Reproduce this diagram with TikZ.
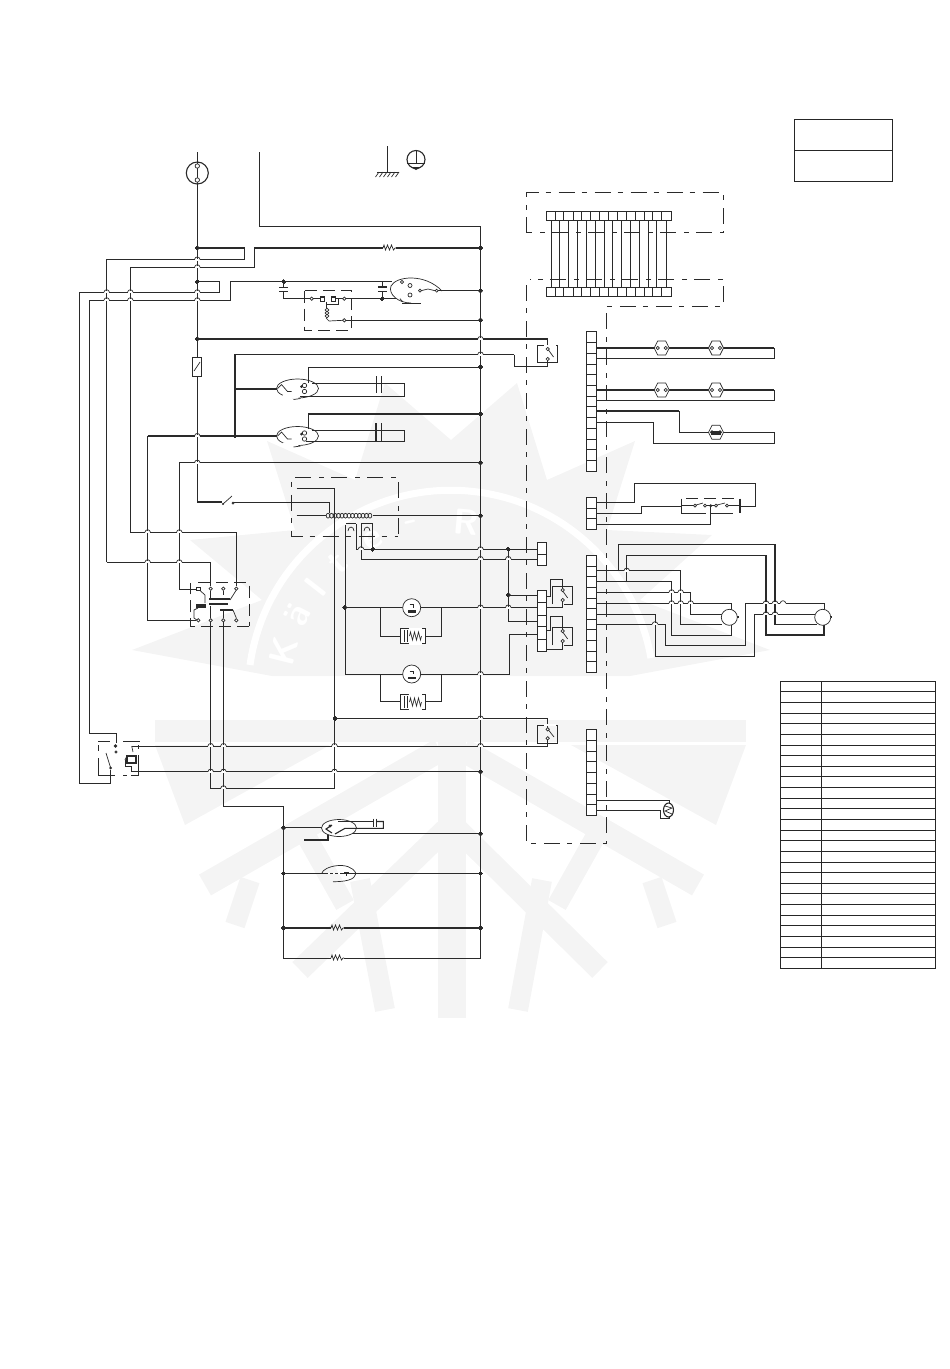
\documentclass[tikz,border=0pt]{standalone}
\definecolor{wirecol}{HTML}{2A2A2A}
\definecolor{wmarkcol}{HTML}{F4F4F4}
\tikzset{
    wire/.style={line width=0.85pt, draw=wirecol},
    heavy/.style={line width=1.1pt, draw=wirecol},
    part/.style={line width=0.7pt, draw=wirecol},
    tablerule/.style={line width=1pt, draw=black!85},
    dashbox/.style={line width=1pt, draw=wirecol, dash pattern=on 16pt off 7pt on 5pt off 8pt},
    shortdash/.style={line width=0.8pt, draw=wirecol, dash pattern=on 12pt off 6pt},
    wmark/.style={draw=wmarkcol},
    wmarktext/.style={text=white, inner sep=0pt, font=\fontsize{36}{36}\selectfont\bfseries\sffamily},
}
% small parts, all placed by their middle or left end
\newcommand{\hop}[2]{
    \draw[white, line width=2pt] ({#1-2.6},#2) -- ({#1+2.6},#2);
    \draw[part] ({#1-2.8},#2) .. controls ({#1-2.4},{#2-3.4}) and ({#1+2.4},{#2-3.4}) .. ({#1+2.8},#2);
}
\newcommand{\resi}[2]{
    \draw[part] (#1,#2) -- ++(1,-3) -- ++(1.5,5) -- ++(2,-5) -- ++(2,5) -- ++(2,-5) -- ++(2,5) -- ++(1.5,-2) -- ++(1,0);
}
\newcommand{\capv}[3]{% vertical lead, plates across
    \draw[heavy] ({#1-4.5},#2) -- ({#1+4.5},#2);
    \draw[heavy] ({#1-4.5},#3) -- ({#1+4.5},#3);
}
\newcommand{\bulb}[2]{
    \draw[part, fill=white] ({#1-7.5},#2) -- ({#1-4},{#2-7}) -- ({#1+4},{#2-7}) -- ({#1+7.5},#2) -- ({#1+4},{#2+7}) -- ({#1-4},{#2+7}) -- cycle;
    \draw[part, fill=white] ({#1-4},#2) circle (1.6);
    \draw[part, fill=white] ({#1+4},#2) circle (1.6);
}
\newcommand{\capmotor}[2]{
    \draw[part] (#1,#2) ellipse (21 and 9.5);
    \draw[white, line width=3pt] ({#1-15},{#2+8}) -- ({#1+1},{#2+9});
    \draw[part] ({#1-20},#2) -- ({#1-16},{#2-4}) -- ({#1-10},{#2+3}) -- ({#1-6},{#2+3});
    \draw[part, fill=white] ({#1+7},{#2-3}) circle (2.2);
    \draw[part, fill=white] ({#1+7},{#2+3}) circle (2.2);
    \fill[wirecol] ({#1+4},{#2-2}) circle (1.5);
    \draw[part] ({#1+3},{#2+10}) -- ({#1-4},{#2+11});
}
\newcommand{\heater}[2]{
    \draw[part, fill=white] ({#1-12.5},{#2-7.5}) rectangle ({#1+12.5},{#2+7.5});
    \draw[white, line width=2pt] ({#1-4},{#2-7.5}) -- ({#1+9},{#2-7.5});
    \draw[white, line width=2pt] ({#1-4},{#2+7.5}) -- ({#1+9},{#2+7.5});
    \draw[part] ({#1-8},{#2-6}) -- ({#1-8},{#2+6});
    \draw[part] ({#1-5},{#2-6}) -- ({#1-5},{#2+6});
    \draw[part] ({#1-3},#2) -- ++(1,-4) -- ++(2,8) -- ++(2,-8) -- ++(2,8) -- ++(2,-8) -- ++(2,8) -- ++(1,-4);
}
\newcommand{\fanmotor}[2]{
    \draw[part, fill=white] (#1,#2) circle (9);
    \draw[part] ({#1-4},{#2+4}) -- ({#1+4},{#2+4});
    \fill[wirecol] ({#1-4},{#2+2.5}) rectangle ({#1+4},{#2+5});
    \draw[part] ({#1-2},{#2-3}) -- ({#1+2},{#2-3}) -- ({#1+2},{#2});
}
\newcommand{\blade}[2]{% open contact with side box, middle at #1,#2
    \draw[part, fill=white] (#1,{#2-5}) circle (1.7);
    \draw[part, fill=white] (#1,{#2+5}) circle (1.7);
    \draw[part] (#1,{#2-4}) -- ({#1+5},{#2+3});
}
\begin{document}
\begin{tikzpicture}[x=1pt, y=-1pt]
    \useasboundingbox (0,0) rectangle (950,1369);
    % watermark
    \fill[wmarkcol] (132,650) -- (262,600) -- (190,540) -- (295,530) -- (267,441) -- (355,480) -- (385,383) -- (451,440) -- (517,383) -- (547,480) -- (635,441) -- (607,530) -- (712,535) -- (640,600) -- (770,650) -- (630,676) -- (272,676) -- cycle;
    \draw[white, line width=7pt] (250,665) arc (-172:-10:203);
    \foreach \c/\a in {K/-166,{\"a}/-153,l/-142,t/-131,e/-117,-/-103,R/-85}
        \node[wmarktext, rotate={-\a-90}] (wmark\a) at ({451+172*cos(\a)},{693+172*sin(\a)}) {\c};
    \fill[wmarkcol] (155,720) rectangle (746,742);
    \fill[wmarkcol] (155,745) -- (330,745) -- (185,825) -- cycle;
    \fill[wmarkcol] (746,745) -- (571,745) -- (716,825) -- cycle;
    \draw[wmark, line width=28pt] (452,742) -- (452,1018);
    \draw[wmark, line width=24pt] (440,750) -- (205,885);
    \draw[wmark, line width=24pt] (463,750) -- (698,885);
    \draw[wmark, line width=20pt] (300,825) -- (345,905);
    \draw[wmark, line width=20pt] (602,825) -- (557,905);
    \draw[wmark, line width=22pt] (445,830) -- (300,970);
    \draw[wmark, line width=22pt] (458,830) -- (600,970);
    \draw[wmark, line width=20pt] (360,880) -- (385,1010);
    \draw[wmark, line width=20pt] (542,880) -- (518,1010);
    \draw[wmark, line width=20pt] (250,880) -- (235,925);
    \draw[wmark, line width=20pt] (652,880) -- (667,925);
    % supply side
    \draw[heavy] (197.3,152) -- (197.3,502) -- (222,502);
    \draw[wire] (233,502) -- (329,502) -- (329,513);
    \draw[wire] (259.6,152) -- (259.6,226) -- (480.5,226) -- (480.5,958) -- (344,958);
    \draw[wire] (330.7,958) -- (283.5,958) -- (283.5,806.5) -- (223.5,806.5) -- (223.5,622);
    \draw[wire] (387.5,146) -- (387.5,172);
    \draw[wire] (377,172) -- (399,172);
    \foreach \x in {379,383,387,391,395,399}
        \draw[part] (\x,172) -- ++(-3.5,5);
    % left hand loops
    \draw[heavy] (197.3,248) -- (244.7,248);
    \draw[wire] (244.7,248) -- (244.7,259.5) -- (106.7,259.5) -- (106.7,562.3);
    \draw[heavy] (106.7,562.3) -- (210.7,562.3) -- (210.7,586);
    \draw[heavy] (480.5,248) -- (396,248);
    \draw[heavy] (383,248) -- (254.3,248) -- (254.3,267.3) -- (130.3,267.3) -- (130.3,532.3) -- (236.3,532.3) -- (236.3,586);
    \draw[wire] (197.3,281.7) -- (219.3,281.7) -- (219.3,292.3) -- (79.3,292.3) -- (79.3,783) -- (110.7,783) -- (110.7,770);
    \draw[wire] (392,281.7) -- (230,281.7) -- (230,300.3) -- (89.3,300.3) -- (89.3,733) -- (116,733) -- (116,743);
    \draw[heavy] (197.3,339) -- (547.7,339) -- (547.7,347);
    \draw[wire] (547.7,359) -- (547.7,366.7) -- (514.3,366.7) -- (514.3,354.5);
    \draw[heavy] (514.3,354.5) -- (235,354.5) -- (235,436);
    \draw[heavy] (147.7,436) -- (276.7,436);
    \draw[wire] (147.7,436) -- (147.7,620.3) -- (196,620.3);
    \draw[heavy] (235,389) -- (276.7,389);
    \draw[wire] (308.3,383) -- (308.3,367) -- (480.5,367);
    \draw[heavy] (308.3,429) -- (308.3,414) -- (480.5,414);
    \draw[wire] (480.5,462.7) -- (179.3,462.7) -- (179.3,589) -- (196,589);
    % capacitor motors
    \draw[wire] (283.7,281.7) -- (283.7,287.3);
    \capv{283.7}{287.3}{291.7}
    \draw[wire] (283.7,291.7) -- (283.7,298.7) -- (310,298.7);
    \draw[wire] (382.3,281.7) -- (382.3,287);
    \capv{382.3}{287}{291.5}
    \draw[wire] (382.3,291.5) -- (382.3,298.7);
    \draw[wire] (345.5,298.7) -- (396,298.7);
    \draw[heavy] (436.7,290.7) -- (480.5,290.7);
    \draw[heavy] (346,320.3) -- (480.5,320.3);
    \draw[shortdash] (304.3,290.7) rectangle (351.7,330.7);
    \draw[part, fill=white] (311.7,298.7) circle (1.7);
    \draw[part, fill=white] (344.3,298.7) circle (1.7);
    \draw[part] (313,298.7) -- (320,298.7);
    \draw[heavy] (320.5,297) rectangle (324.5,301.5);
    \draw[heavy] (331.5,297) rectangle (335.5,301.5);
    \draw[part] (335.5,298.7) -- (343,298.7);
    \draw[part] (326,301.5) -- (326,304) -- (338,304) -- (338,298.7);
    \draw[part] (326,304) -- (326,308);
    \foreach \y in {310,313,316}
        \draw[part] (327,\y) circle (1.8);
    \draw[part] (326,318) -- (329,321) -- (343,320.3);
    \draw[part, fill=white] (344.3,320.3) circle (1.7);
    \draw[part] (391,286) .. controls (396,276) and (425,273) .. (442,291);
    \draw[part] (391,286) .. controls (388,294) and (398,303) .. (411,303);
    \draw[part] (402,303.5) -- (421,303.5);
    \draw[part, fill=white] (402,282) circle (1.6);
    \draw[part, fill=white] (410,285.5) circle (2);
    \draw[part, fill=white] (410,295) circle (2);
    \draw[part, fill=white] (420,290.7) circle (1.5);
    \draw[part, fill=white] (436.7,290.7) circle (1.5);
    \draw[part] (421,290.7) -- (428,289) -- (435,290.7);
    \draw[part] (400,298.7) -- (403,302);
    \capmotor{297.5}{388.5}
    \capmotor{297.5}{436}
    \draw[wire] (312,383.3) -- (404.3,383.3) -- (404.3,396) -- (300,396);
    \draw[part] (376,376) -- (376,393.3);
    \draw[part] (381.7,376) -- (381.7,393.3);
    \draw[wire] (312,430) -- (404.3,430) -- (404.3,441.7) -- (306,441.7);
    \draw[heavy] (376,423) -- (376,440.5);
    \draw[heavy] (381.7,423) -- (381.7,440.5);
    % fuse and hand switch
    \draw[part, fill=white] (192.3,357.3) rectangle (201.7,376);
    \draw[part] (194,371) -- (200,362);
    \draw[heavy, fill=white] (197.3,173) circle (11);
    \draw[heavy] (197.3,162) -- (197.3,184);
    \draw[part, fill=white] (197.3,166) circle (2.2);
    \draw[part, fill=white] (197.3,180) circle (2.2);
    \draw[part] (223,504) -- (232,496);
    \fill[wirecol] (223,504) circle (1.2);
    \draw[part, fill=white] (233,503) circle (1);
    % earth mark
    \draw[heavy] (416,159.5) circle (9);
    \draw[part] (416,151) -- (416,163);
    \draw[part] (407,163) -- (425,163);
    \fill[wirecol] (411,167) -- (421,167) -- (416,170) -- cycle;
    % transformer
    \draw[dashbox] (398.3,534) -- (398.3,477.7) -- (291.7,477.7) -- (291.7,536) -- (398.3,536);
    \draw[heavy] (296.7,488.3) -- (334.5,488.3);
    \draw[wire] (334.5,488.3) -- (334.5,788.3) -- (210.7,788.3) -- (210.7,622);
    \draw[wire] (296.7,515.7) -- (326,515.7);
    \draw[wire] (373.3,515.7) -- (480.5,515.7);
    \foreach \x in {328,331.5,...,371}
        \draw[part] (\x,515.7) circle (1.8 and 2.4);
    \draw[part] (346,523) -- (356,523);
    \draw[part] (361,523) -- (373,523);
    \draw[part] (348,531) arc (-180:0:3 and 4);
    \draw[part] (364,531) arc (-180:0:3 and 4);
    \draw[wire] (345,525) -- (345,674) -- (509,674) -- (509,634) -- (537.7,634);
    \draw[heavy] (345,607.5) -- (537.7,607.5);
    \draw[heavy] (356.7,524) -- (356.7,549.3) -- (537.7,549.3);
    \draw[wire] (372.7,524) -- (372.7,549.3);
    \draw[wire] (361,524) -- (361,559) -- (537.7,559);
    \draw[wire] (508.3,549.3) -- (508.3,621.7) -- (537.7,621.7);
    \draw[wire] (508.3,595) -- (537.7,595);
    % fan motors and heaters
    \draw[wire] (380.7,607.5) -- (380.7,636) -- (441.7,636) -- (441.7,607.5);
    \draw[wire] (380.7,674) -- (380.7,701.7) -- (441.7,701.7) -- (441.7,674);
    \fanmotor{411.7}{607.7}
    \fanmotor{411.7}{674}
    \heater{412.5}{636}
    \heater{412.5}{702}
    % lower rows
    \draw[wire] (335,718.5) -- (547.7,718.5) -- (547.7,729);
    \draw[wire] (140,746) -- (547.7,746) -- (547.7,739);
    \draw[wire] (140,771.7) -- (480.5,771.7);
    \draw[heavy] (283.5,827.7) -- (322,827.7);
    \draw[wire] (352,833.7) -- (480.5,833.7);
    \draw[heavy] (304,840) -- (328,840) -- (328,834);
    \draw[wire] (283.5,873.5) -- (480.5,873.5);
    \draw[heavy] (283.5,928) -- (330.7,928);
    \draw[heavy] (344,928) -- (480.5,928);
    \resi{383}{248}
    \resi{331}{928}
    \resi{331}{958}
    % thermostat parts on the lower rows
    \draw[part, fill=white] (339,828) ellipse (17.5 and 8.5);
    \draw[heavy] (332,825) -- (326,829) -- (332,833);
    \fill[wirecol] (330,826) circle (1.6);
    \draw[part] (338,821.5) -- (373.3,821.5);
    \draw[heavy] (373.3,818.5) -- (373.3,826.5);
    \draw[heavy] (376.5,818.5) -- (376.5,826.5);
    \draw[heavy] (376.5,821.5) -- (383.3,821.5) -- (383.3,828.3) -- (345,828.3) -- (335,834);
    \draw[part] (321.7,873.5) .. controls (323,866) and (350,860) .. (356,873.5);
    \draw[part] (356,873.5) .. controls (355,880) and (345,881.7) .. (333,881.7);
    \draw[white, line width=1.5pt] (325,873.5) -- (343,873.5);
    \draw[part, dash pattern=on 3pt off 2pt] (325,873.5) -- (345,873.5);
    \draw[heavy] (344,872.5) -- (349,872.5);
    \draw[part] (346.5,872.5) -- (346.5,876);
    % contactor
    \draw[shortdash] (198,582.7) -- (249,582.7) -- (249,626);
    \draw[shortdash] (249,626) -- (190.7,626) -- (190.7,582.7);
    \draw[part] (198.3,589) -- (205,595) -- (205,603);
    \draw[part, fill=white] (196.8,587.3) rectangle (200,590.7);
    \draw[part, fill=white] (223.3,588.7) circle (1.7);
    \draw[part] (223.3,590.5) -- (223.3,595);
    \draw[part, fill=white] (210.7,588.7) circle (1.7);
    \draw[part, fill=white] (236.3,588.7) circle (1.7);
    \draw[part] (210.7,590.5) -- (210.7,598);
    \draw[heavy] (209,599) -- (230,599);
    \draw[heavy] (209,604) -- (228,604);
    \draw[part] (230,600) -- (236,590.5);
    \fill[wirecol] (196,604) rectangle (206,608);
    \draw[part] (198,608) -- (194,610) -- (194,618) -- (197,620);
    \foreach \x in {198.3,210.7,223.3,236.3}
        \draw[part, fill=white] (\x,620.3) circle (1.7);
    \draw[part] (210.7,606) -- (210.7,618);
    \draw[heavy] (220,610) -- (233,610);
    \draw[part] (223.3,610) -- (223.3,618);
    \draw[part] (233,610) -- (236.3,618);
    % door switches
    \draw[shortdash] (98.3,741) -- (114,741);
    \draw[part] (98.3,745) -- (98.3,751);
    \draw[part] (98.3,758) -- (98.3,775) -- (115,775);
    \fill[wirecol] (115.5,746) circle (1.8);
    \draw[part, fill=white] (116,752) circle (1.2);
    \draw[part] (110.7,768) -- (106,753);
    \fill[wirecol] (110.7,768) circle (1.5);
    \draw[part] (123,741) -- (140,741);
    \draw[part] (138.5,745) -- (138.5,749);
    \draw[part] (138.5,755) -- (138.5,775) -- (131,775);
    \draw[part] (123,775) -- (127,775);
    \draw[wire] (131.7,746) -- (155,746);
    \draw[part] (131.7,746) -- (133,752);
    \draw[part] (125,760) -- (125,766) -- (131.7,766) -- (131.7,771.7) -- (145,771.7);
    \draw[heavy] (127,756) rectangle (136,763);
    \draw[part] (125,760) -- (127,756);
    % outer dash dot frames
    \draw[dashbox] (526.7,232.7) -- (526.7,192.7) -- (723.3,192.7) -- (723.3,232.7) -- (526.7,232.7);
    \draw[dashbox] (526.7,285) -- (526.7,843.3) -- (606,843.3) -- (606,306.7) -- (723.3,306.7) -- (723.3,279.3) -- (530,279.3);
    % upper terminal rows
    \foreach \x/\w in {551.3/heavy,559.3/wire,568.7/wire,577.7/wire,586.7/heavy,595.7/wire,604.3/wire,612.7/wire,621.7/wire,630.3/wire,639.7/heavy,648.3/wire,656.7/wire,666.3/heavy}
        \draw[\w] (\x,220) -- (\x,287.3);
    \foreach \y in {211.7,287.3}{
        \draw[part, fill=white] (546,\y) rectangle (671,{\y+8.7});
        \foreach \x in {555.3,563.3,573.3,581.7,590.7,599.3,608.3,617.3,626,635.3,644.3,652.7,661.7}
            \draw[part] (\x,\y) -- (\x,{\y+8.7});
    }
    % relays in the frame
    \draw[part] (537.7,345.7) rectangle (557.3,362.3);
    \draw[white, line width=2pt] (544,345.7) -- (556,345.7);
    \draw[part, fill=white] (547.7,349) circle (1.7);
    \draw[part, fill=white] (547.7,359) circle (1.7);
    \draw[part] (548.5,350) -- (553.5,357);
    \draw[part] (537.7,725) rectangle (557.3,743.3);
    \draw[white, line width=2pt] (544,725) -- (556,725);
    \draw[part, fill=white] (547.7,729.3) circle (1.7);
    \draw[part, fill=white] (547.7,738.3) circle (1.7);
    \draw[part] (548.5,730) -- (554,737);
    % terminal blocks
    \draw[part, fill=white] (537.7,542.7) rectangle (546.7,565.3);
    \draw[part] (537.7,554) -- (546.7,554);
    \draw[part, fill=white] (537.7,590) rectangle (546.7,651.7);
    \foreach \y in {602.7,615,626.7,639.3}
        \draw[part] (537.7,\y) -- (546.7,\y);
    \draw[wire] (546.7,596.7) -- (550,596.7) -- (550,579.3) -- (562.7,579.3) -- (562.7,588);
    \draw[wire] (546.7,607.3) -- (562.7,607.3) -- (562.7,602);
    \draw[part] (552.3,604) -- (552.3,586.7) -- (572.7,586.7) -- (572.7,604) -- (564,604);
    \blade{562.7}{595}
    \draw[wire] (546.7,630) -- (550,630) -- (550,616) -- (562.7,616) -- (562.7,630);
    \draw[wire] (546.7,649) -- (562.7,649) -- (562.7,643);
    \draw[part] (552.3,645) -- (552.3,627.3) -- (572.7,627.3) -- (572.7,645) -- (564,645);
    \blade{562.7}{636}
    % terminal strips with their rows
    \draw[part, fill=white] (586.3,331.7) rectangle (596,471);
    \foreach \i in {1,...,12}
        \draw[part] (586.3,{331.7+\i*10.72}) -- (596,{331.7+\i*10.72});
    \draw[part, fill=white] (586.3,497.3) rectangle (596,529.3);
    \draw[part] (586.3,508) -- (596,508);
    \draw[part] (586.3,518.7) -- (596,518.7);
    \draw[part, fill=white] (586.3,555.3) rectangle (596,672.3);
    \foreach \i in {1,...,10}
        \draw[part] (586.3,{555.3+\i*10.64}) -- (596,{555.3+\i*10.64});
    \draw[part, fill=white] (586.3,729.7) rectangle (596,815.3);
    \foreach \i in {1,...,7}
        \draw[part] (586.3,{729.7+\i*10.7}) -- (596,{729.7+\i*10.7});
    % lamps
    \draw[heavy] (596,348) -- (774,348);
    \draw[wire] (774,348) -- (774,358.7) -- (596,358.7);
    \draw[heavy] (596,390) -- (774,390);
    \draw[wire] (774,390) -- (774,400.7) -- (596,400.7);
    \draw[heavy] (596,411) -- (679,411);
    \draw[wire] (679,411) -- (679,432.3) -- (774,432.3) -- (774,443.3) -- (653.3,443.3) -- (653.3,422.3) -- (596,422.3);
    \bulb{661.7}{348}
    \bulb{716}{348}
    \bulb{661.7}{390}
    \bulb{716}{390}
    \bulb{716}{432.3}
    \fill[wirecol] (711,430.5) rectangle (721,434.5);
    % defrost limit row
    \draw[wire] (596,502.7) -- (634.7,502.7) -- (634.7,483.3) -- (755.7,483.3) -- (755.7,506.7) -- (740,506.7);
    \draw[wire] (596,513.3) -- (641.7,513.3) -- (641.7,506.7) -- (681.7,506.7);
    \draw[wire] (596,524.3) -- (710.7,524.3) -- (710.7,505.7);
    \draw[heavy] (681.7,498.5) -- (681.7,513.3) -- (706,513.3);
    \draw[heavy] (740,498.5) -- (740,513.3);
    \draw[part] (710,513.3) -- (733,513.3);
    \draw[shortdash] (686,498.3) -- (738,498.3);
    \draw[part] (681.7,505.7) -- (694,505.7);
    \draw[part] (725,505.7) -- (740,505.7);
    \foreach \x in {695,705,716,727}
        \draw[part, fill=white] (\x,505.7) circle (1.5);
    \draw[part] (696,505) -- (703,503);
    \draw[part] (717,505) -- (725,503);
    \fill[wirecol] (710.7,505.7) circle (1.6);
    \draw[part] (706,505.7) -- (715,505.7);
    % compressor and fan wiring
    \draw[heavy] (596,570.7) -- (680.7,570.7) -- (680.7,624.3) -- (722,624.3);
    \draw[heavy] (618.3,570.7) -- (618.3,544.3) -- (775,544.3) -- (775,624.3) -- (816.7,624.3);
    \draw[heavy] (626.7,581) -- (626.7,555.7) -- (766,555.7) -- (766,635) -- (824,635) -- (824,625);
    \draw[wire] (596,581) -- (671.7,581) -- (671.7,635) -- (731,635) -- (731,625);
    \draw[wire] (596,592.3) -- (690.7,592.3) -- (690.7,614.3) -- (722,614.3);
    \draw[wire] (596,603.3) -- (731,603.3) -- (731,610);
    \draw[wire] (596,614.3) -- (655,614.3) -- (655,656) -- (754,656) -- (754,614.3) -- (815,614.3);
    \draw[wire] (596,624.3) -- (665,624.3) -- (665,645) -- (745.7,645) -- (745.7,603.3) -- (824,603.3) -- (824,610);
    \foreach \x in {729.3,822.7}{
        \draw[part, fill=white] (\x,617.3) circle (8);
        \fill[wirecol] ({\x+8},616.3) rectangle ({\x+9.5},618.3);
    }
    % thermistor
    \draw[wire] (596,800) -- (669.3,800) -- (669.3,803);
    \draw[wire] (596,810) -- (660,810) -- (660,818.3) -- (669.3,818.3) -- (669.3,816);
    \draw[heavy, fill=white] (668.5,810) ellipse (5 and 7);
    \draw[part] (665,806) -- (672,808) -- (665,811) -- (672,814);
    % jumps
    \foreach \x/\y in {197.3/259.5,197.3/267.3,197.3/292.3,197.3/300.3,130.3/292.3,130.3/300.3,106.7/292.3,106.7/300.3,197.3/436,197.3/462.7,147.7/532.3,179.3/532.3,147.7/562.3,179.3/562.3,480.5/339,480.5/354.5,480.5/549.3,480.5/559,480.5/607.5,480.5/674,480.5/718.5,480.5/746,210.7/746,223.5/746,334.5/746,210.7/771.7,223.5/771.7,334.5/771.7,223.5/788.3,361/549.3,508.3/559,508.3/607.5,626.7/570.7,671.7/592.3,680.7/592.3,671.7/603.3,680.7/603.3,690.7/603.3,655/624.3,766/603.3,775/603.3,783/603.3,766/614.3,775/614.3}
        \hop{\x}{\y}
    % joints
    \foreach \x/\y in {197.3/248,197.3/281.7,197.3/339,235/436,283.7/281.7,382.3/298.7,480.5/248,480.5/290.7,480.5/320.3,480.5/367,480.5/414,480.5/462.7,480.5/515.7,344.7/607.5,372.7/549.3,508.3/549.3,508.3/595,335/718.5,480.5/771.7,283.5/827.7,480.5/833.7,283.5/873.5,480.5/873.5,283.5/928,480.5/928}
        \fill[wirecol] (\x,\y) circle (1.9);
    % boxes on the right
    \draw[tablerule] (794.3,119.3) rectangle (892.3,181);
    \draw[tablerule] (794.3,150.3) -- (892.3,150.3);
    \draw[tablerule] (780.3,681.3) rectangle (935.3,968.3);
    \draw[tablerule] (821.3,681.3) -- (821.3,968.3);
    \foreach \i in {1,...,26}
        \draw[tablerule] (780.3,{681.3+\i*10.63}) -- (935.3,{681.3+\i*10.63});
\end{tikzpicture}
\end{document}
